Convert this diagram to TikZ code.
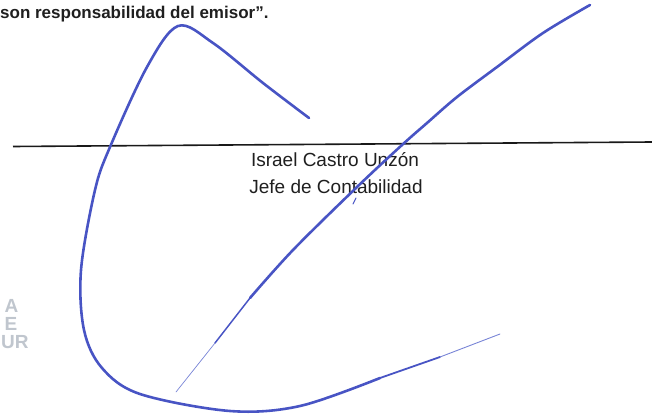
\documentclass[tikz,border=0pt]{standalone}
\usepackage{fontspec}
\setmainfont{Liberation Sans}
\usepackage{tikz}
\usepackage{xcolor}
\definecolor{inkblue}{RGB}{72,84,196}
\definecolor{inklight}{RGB}{120,132,214}
\definecolor{faded}{RGB}{192,198,206}
\tikzstyle{ink} = [draw=inkblue, line width=2.6pt, line cap=round, line join=round]
\tikzstyle{caption} = [inner sep=0pt, anchor=base, text=black!88]
\tikzstyle{sello} = [inner sep=0pt, anchor=base west, text=faded, font=\bfseries\fontsize{19}{22}\selectfont]

\begin{document}
\begin{tikzpicture}[x=1pt, y=-1pt]
    \useasboundingbox (0,0) rectangle (652,414);
    % texto superior
    \node[caption, anchor=base west, font=\bfseries\fontsize{17}{20}\selectfont] (nota) at (0,19) {son responsabilidad del emisor”.};
    % linea de firma
    \coordinate (rulea) at (13,146.5);
    \coordinate (ruleb) at (652,142);
    \draw[line width=1.6pt, black!90] (rulea) -- (ruleb);
    \node[caption, font=\fontsize{19}{22}\selectfont] (nombre) at (335,166) {Israel Castro Unzón};
    \node[caption, font=\fontsize{19}{22}\selectfont] (cargo) at (336,193) {Jefe de Contabilidad};
    % sello
    \node[sello] (sa) at (4.5,312) {A};
    \node[sello] (sb) at (4.5,330) {E};
    \node[sello] (sc) at (1,348) {UR};
    % firma: lazo
    \draw[ink] plot[smooth, tension=0.55] coordinates {(309,118) (263,83) (213,43) (178,26) (147,67) (110,147) (95,190) (81,270) (84,330) (102,368) (140,394) (230,411) (300,406) (380,378)};
    \draw[ink, line width=1.8pt] (380,378) -- (440,357);
    \draw[ink, draw=inklight, line width=0.9pt] (440,357) -- (500,334);
    % firma: diagonal
    \draw[ink] plot[smooth, tension=0.55] coordinates {(590,5) (543,33) (497,67) (457,97) (427,123) (402,145) (357,187) (293,250) (250,298)};
    \draw[ink, line width=1.5pt] (250,298) -- (215,343);
    \draw[ink, draw=inklight, line width=0.7pt] (215,343) -- (176,392);
    \draw[ink, line width=1pt] (356,198) -- (353,204);
\end{tikzpicture}
\end{document}
